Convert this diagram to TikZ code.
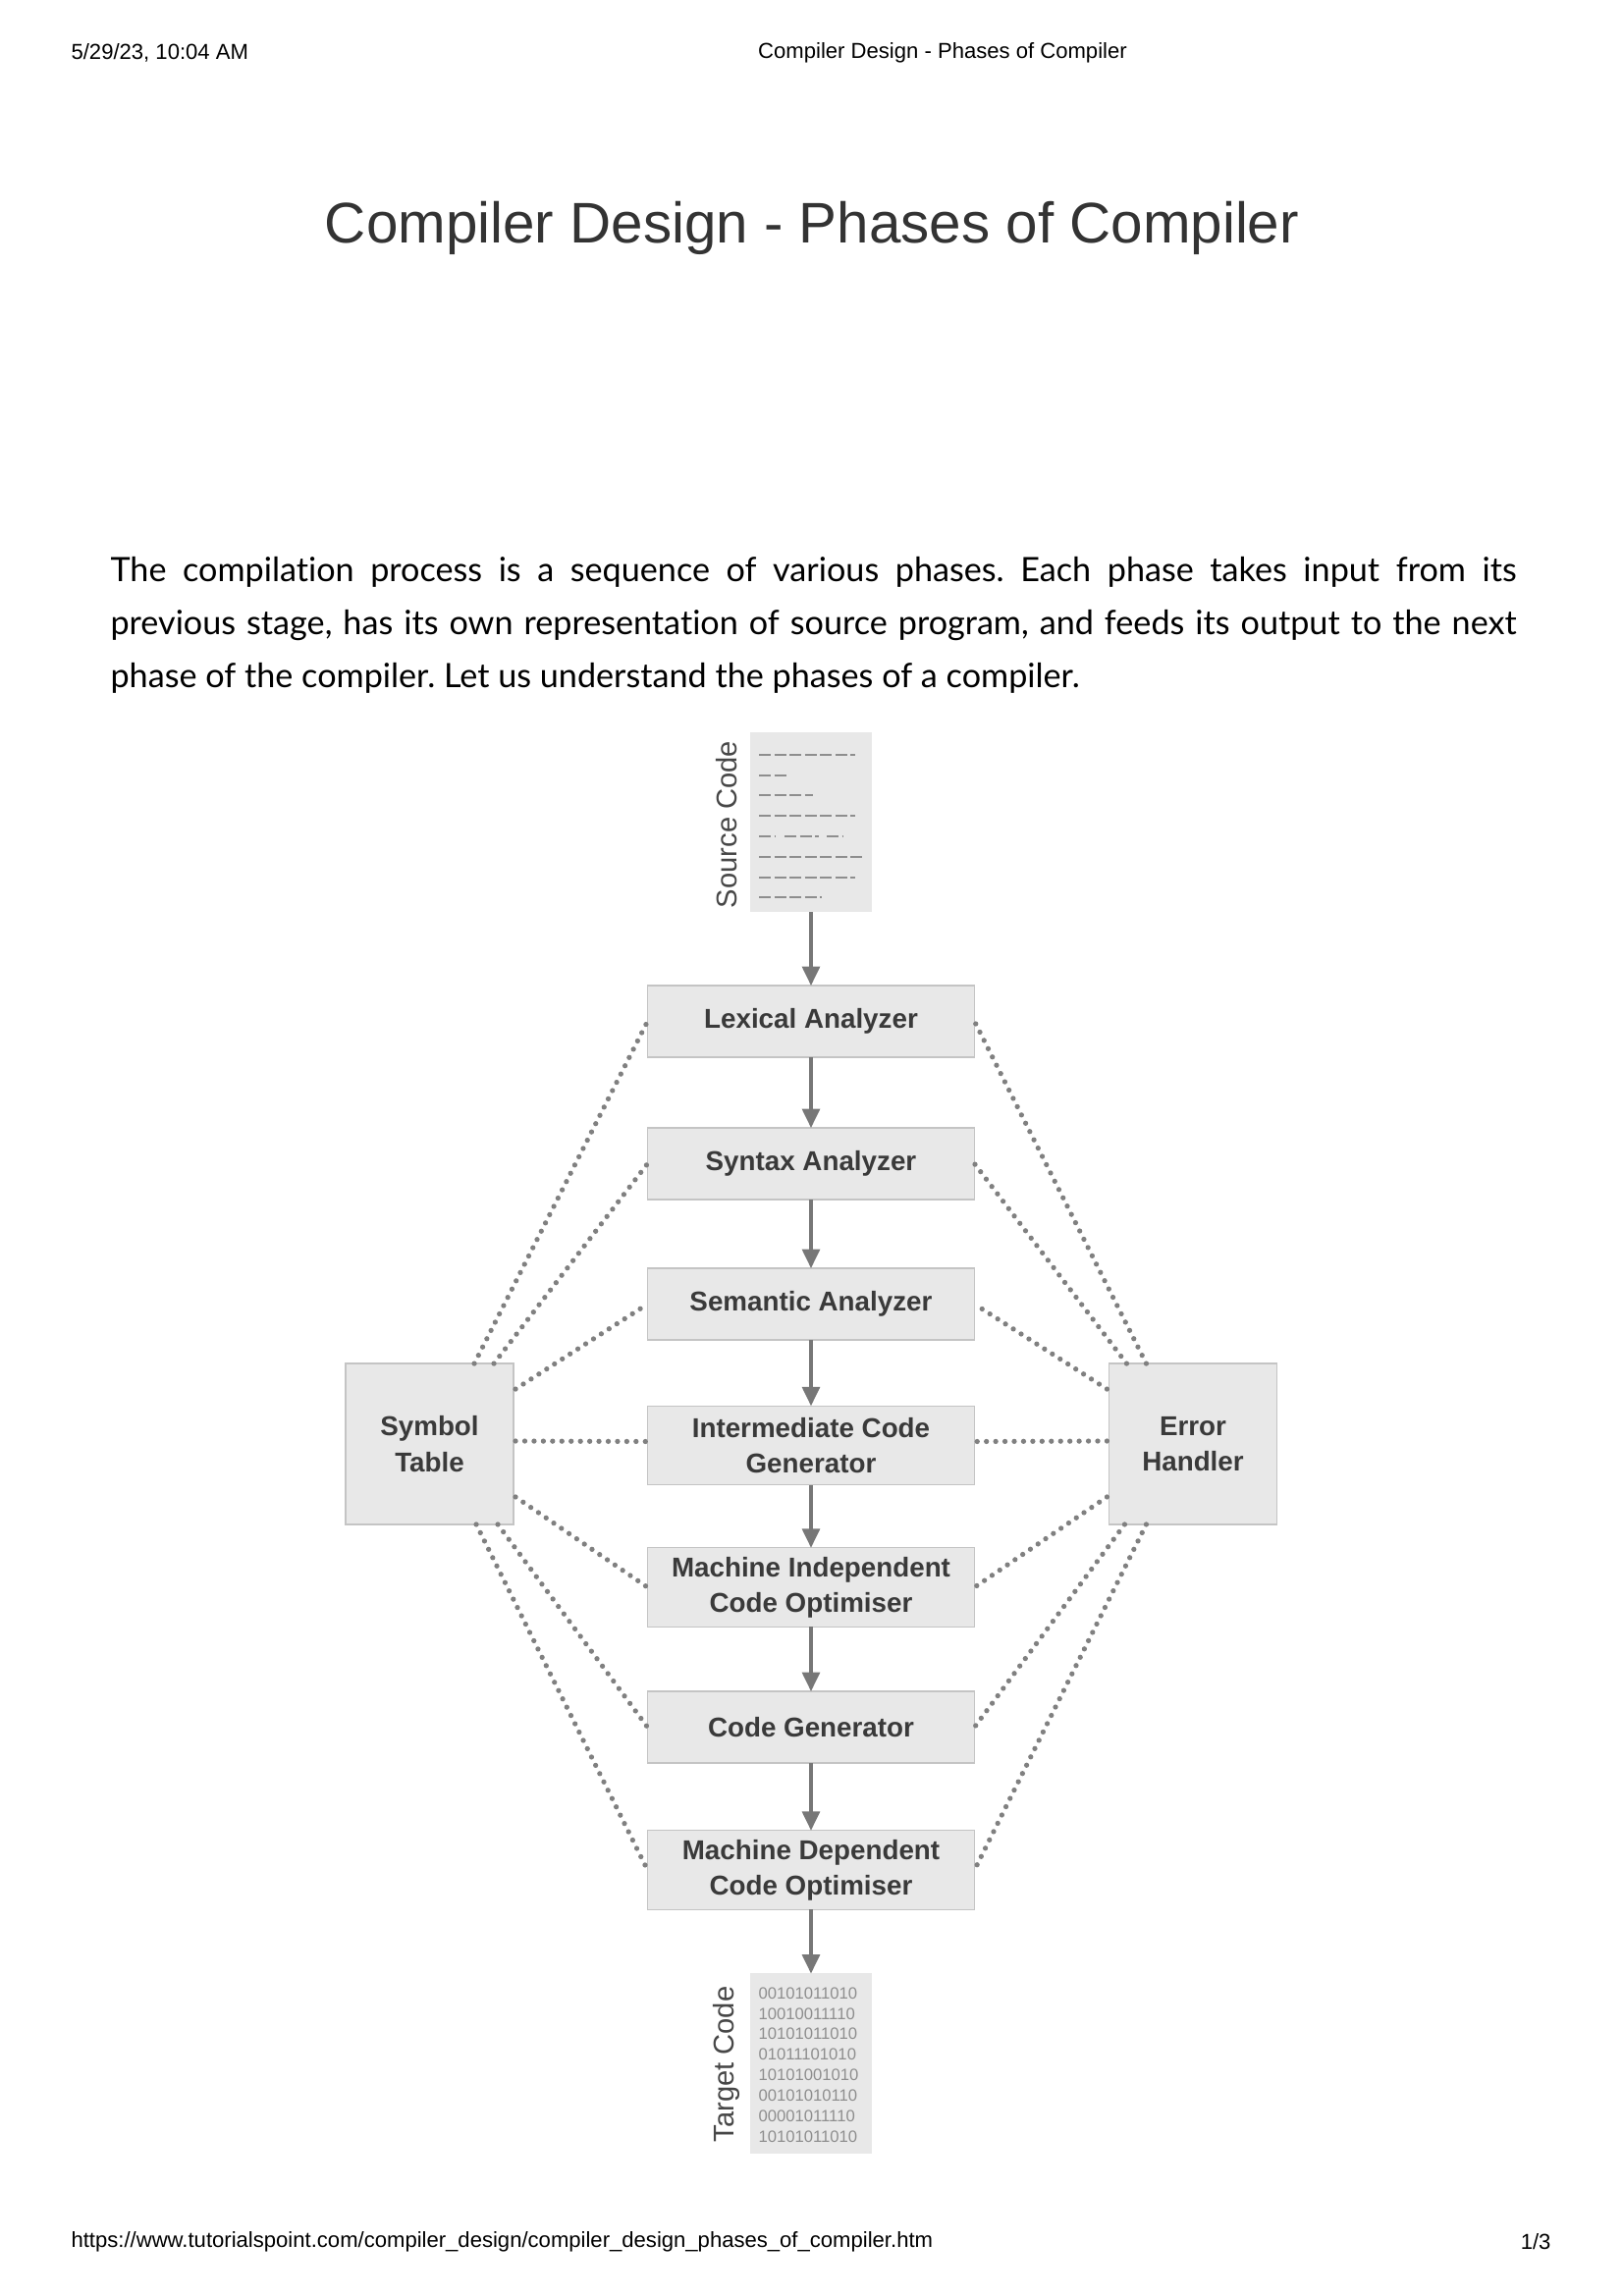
\documentclass[tikz,border=0pt]{standalone}
\usepackage{fontspec}
\setmainfont{Liberation Sans}
\newfontfamily\parafont[RawFeature=-liga]{Lato}
\usetikzlibrary{arrows.meta,calc}
\definecolor{boxfill}{HTML}{E8E8E8}
\definecolor{boxline}{HTML}{C4C4C4}
\definecolor{boxtext}{HTML}{3A3A3A}
\definecolor{arrowgray}{HTML}{777777}
\definecolor{dotgray}{HTML}{808080}
\definecolor{codegray}{HTML}{8E8E8E}
\begin{document}
\frenchspacing
\begin{tikzpicture}[x=0.36pt,y=-0.36pt,
  phase/.style={draw=boxline,line width=0.5pt,fill=boxfill,inner sep=0pt,outer sep=0pt,
    minimum width=119.9pt,align=center,text=boxtext,
    font=\fontsize{10pt}{13pt}\selectfont\bfseries},
  side/.style={phase,minimum width=61.6pt,minimum height=59pt},
  doc/.style={fill=boxfill,draw=none,inner sep=0pt,outer sep=0pt,minimum width=44.6pt,minimum height=65.9pt},
  flow/.style={draw=arrowgray,line width=1.1pt,-{Triangle[width=6.5pt,length=7pt]}},
  dotted link/.style={draw=dotgray,line width=1.9pt,line cap=round,dash pattern=on 0pt off 3.4pt},
  codedash/.style={draw=codegray,line width=0.8pt,dash pattern=on 4.3pt off 1.3pt},
  vlabel/.style={rotate=90,text=black!72,font=\fontsize{10.5pt}{12pt}\selectfont,inner sep=0pt},
  bintext/.style={text=codegray,font=\fontsize{6pt}{7.5pt}\selectfont,inner sep=0pt,anchor=west},
  hdr/.style={font=\fontsize{7.95pt}{9pt}\selectfont,inner sep=0pt},
]
\useasboundingbox[fill=white] (0,0) rectangle (1653,2339);

% header and footer
\node[hdr,anchor=west] (date) at (72,54) {5/29/23, 10:04 AM};
\node[hdr] (hdrtitle) at (960,54) {Compiler Design - Phases of Compiler};
\node[hdr,anchor=west] (url) at (72,2284) {https://www.tutorialspoint.com/compiler\_design/compiler\_design\_phases\_of\_compiler.htm};
\node[hdr,anchor=east] (page) at (1580,2284) {1/3};

% title
\node[inner sep=0pt,text=black!80,font=\fontsize{21pt}{25pt}\selectfont] (title) at (827,232) {Compiler Design - Phases of Compiler};

% paragraph
\node[inner sep=0pt,anchor=base west,font=\parafont\fontsize{12.3pt}{19.4pt}\selectfont] (p1) at (112,592)
  {\hbox to 515.5pt{The compilation process is a sequence of various phases. Each phase takes input from its}};
\node[inner sep=0pt,anchor=base west,font=\parafont\fontsize{12.3pt}{19.4pt}\selectfont] (p2) at (112,646)
  {\hbox to 515.5pt{previous stage, has its own representation of source program, and feeds its output to the next}};
\node[inner sep=0pt,anchor=base west,font=\parafont\fontsize{12.3pt}{19.4pt}\selectfont] (p3) at (112,700)
  {phase of the compiler. Let us understand the phases of a compiler.};

% source code document
\node[doc] (src) at (826,837.5) {};
\node[vlabel] (srclabel) at (740,840) {Source Code};
\draw[codedash] (773,769) -- (871,769);
\draw[codedash] (773,790) -- (804,790);
\draw[codedash] (773,810) -- (828,810);
\draw[codedash] (773,831) -- (871,831);
\draw[codedash] (773,852) -- (790,852) (799,852) -- (834,852) (842,852) -- (859,852);
\draw[codedash] (773,873) -- (878,873);
\draw[codedash] (773,894) -- (871,894);
\draw[codedash] (773,914) -- (837,914);

% phases
\node[phase,minimum height=26.3pt] (lex) at (826,1040.5) {Lexical Analyzer};
\node[phase,minimum height=26.3pt] (syn) at (826,1185.5) {Syntax Analyzer};
\node[phase,minimum height=26.3pt] (sem) at (826,1328.5) {Semantic Analyzer};
\node[phase,minimum height=29pt] (icg) at (826,1472.5) {Intermediate Code\\Generator};
\node[phase,minimum height=29pt] (mio) at (826,1617) {Machine Independent\\Code Optimiser};
\node[phase,minimum height=26.3pt] (cg) at (826,1759.5) {Code Generator};
\node[phase,minimum height=29pt] (mdo) at (826,1905) {Machine Dependent\\Code Optimiser};

% target code document
\node[doc] (tgt) at (826,2102) {};
\node[vlabel] (tgtlabel) at (740,2103) {Target Code};
\node[bintext] (b1) at (772,2031) {00101011010};
\node[bintext] (b2) at (772,2052) {10010011110};
\node[bintext] (b3) at (772,2072) {10101011010};
\node[bintext] (b4) at (772,2093) {01011101010};
\node[bintext] (b5) at (772,2114) {10101001010};
\node[bintext] (b6) at (772,2135) {00101010110};
\node[bintext] (b7) at (772,2156) {00001011110};
\node[bintext] (b8) at (772,2177) {10101011010};

% side boxes
\node[side] (sym) at (437.5,1471) {Symbol\\Table};
\node[side] (err) at (1215,1471) {Error\\Handler};

% flow arrows
\draw[flow] (src.south -| lex.north) -- (lex.north);
\draw[flow] (lex) -- (syn);
\draw[flow] (syn) -- (sem);
\draw[flow] (sem) -- (icg);
\draw[flow] (icg) -- (mio);
\draw[flow] (mio) -- (cg);
\draw[flow] (cg) -- (mdo);
\draw[flow] (mdo.south) -- (tgt.north -| mdo.south);

% symbol table links
\draw[dotted link] ($(sym.north east)+(-40,0)$) -- (lex.west);
\draw[dotted link] ($(sym.north east)+(-20,0)$) -- (syn.west);
\draw[dotted link] ($(sym.north east)+(2,26)$) -- (sem.west);
\draw[dotted link] ($(sym.east)+(2,-3)$) -- ($(icg.west)+(0,-4)$);
\draw[dotted link] ($(sym.south east)+(2,-28)$) -- (mio.west);
\draw[dotted link] ($(sym.south east)+(-16,0)$) -- (cg.west);
\draw[dotted link] ($(sym.south east)+(-38,0)$) -- (mdo.west);

% error handler links
\draw[dotted link] ($(err.north west)+(38,0)$) -- (lex.east);
\draw[dotted link] ($(err.north west)+(18,0)$) -- (syn.east);
\draw[dotted link] ($(err.north west)+(-2,26)$) -- (sem.east);
\draw[dotted link] ($(err.west)+(-2,-3)$) -- ($(icg.east)+(0,-4)$);
\draw[dotted link] ($(err.south west)+(-2,-28)$) -- (mio.east);
\draw[dotted link] ($(err.south west)+(16,0)$) -- (cg.east);
\draw[dotted link] ($(err.south west)+(38,0)$) -- (mdo.east);
\end{tikzpicture}
\end{document}
